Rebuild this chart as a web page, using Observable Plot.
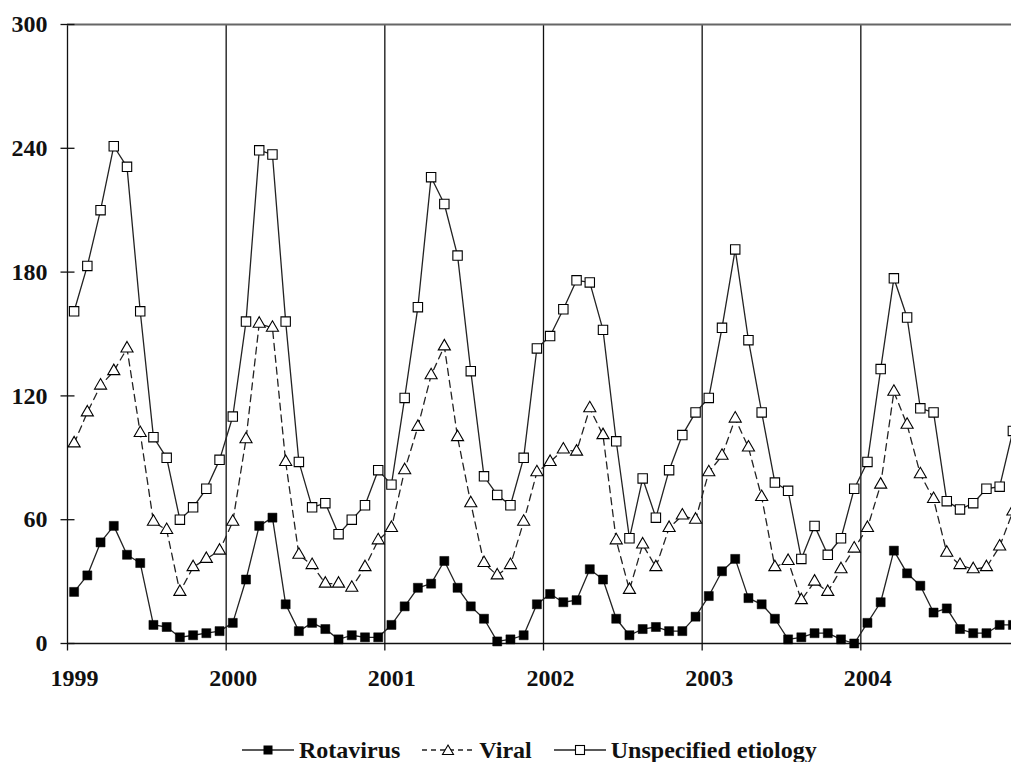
<!DOCTYPE html>
<html><head><meta charset="utf-8">
<script src="https://cdn.jsdelivr.net/npm/d3@7"></script>
<script src="https://cdn.jsdelivr.net/npm/@observablehq/plot@0.6"></script>
<style>
html,body{margin:0;padding:0;background:#fff;overflow:hidden;}
#wrap{position:relative;width:1011px;height:762px;}
#legend{position:absolute;left:242px;top:738px;display:flex;align-items:center;font:bold 24px "Liberation Serif",serif;color:#111;line-height:24px;white-space:nowrap;}
.item{display:flex;align-items:center;margin-right:22px;}
.item svg{margin-right:5px;display:block;}
</style></head><body><div id="wrap"><div id="chart"></div><div id="legend"></div></div>
<script>
const startYear = 1999;
const yearTicks = [1999, 2000, 2001, 2002, 2003, 2004];
const yTicks = [0, 60, 120, 180, 240, 300];
const seriesNames = ["Rotavirus", "Viral", "Unspecified etiology"];

const rotavirus = [
  25, 33, 49, 57, 43, 39, 9, 8, 3, 4, 5, 6,
  10, 31, 57, 61, 19, 6, 10, 7, 2, 4, 3, 3,
  9, 18, 27, 29, 40, 27, 18, 12, 1, 2, 4, 19,
  24, 20, 21, 36, 31, 12, 4, 7, 8, 6, 6, 13,
  23, 35, 41, 22, 19, 12, 2, 3, 5, 5, 2, 0,
  10, 20, 45, 34, 28, 15, 17, 7, 5, 5, 9, 9
];
const viral = [
  97, 112, 125, 132, 143, 102, 59, 55, 25, 37, 41, 45,
  59, 99, 155, 153, 88, 43, 38, 29, 29, 27, 37, 50,
  56, 84, 105, 130, 144, 100, 68, 39, 33, 38, 59, 83,
  88, 94, 93, 114, 101, 50, 26, 48, 37, 56, 62, 60,
  83, 91, 109, 95, 71, 37, 40, 21, 30, 25, 36, 46,
  56, 77, 122, 106, 82, 70, 44, 38, 36, 37, 47, 64
];
const unspecified = [
  161, 183, 210, 241, 231, 161, 100, 90, 60, 66, 75, 89,
  110, 156, 239, 237, 156, 88, 66, 68, 53, 60, 67, 84,
  77, 119, 163, 226, 213, 188, 132, 81, 72, 67, 90, 143,
  149, 162, 176, 175, 152, 98, 51, 80, 61, 84, 101, 112,
  119, 153, 191, 147, 112, 78, 74, 41, 57, 43, 51, 75,
  88, 133, 177, 158, 114, 112, 69, 65, 68, 75, 76, 103
];

const monthX = i => startYear + (i + 0.5) / 12;
const rows = (vals, s) => vals.map((v, i) => ({x: monthX(i), y: v, series: s}));
const rotRows = rows(rotavirus, seriesNames[0]);
const virRows = rows(viral, seriesNames[1]);
const unsRows = rows(unspecified, seriesNames[2]);

const ink = "#111";
const lineInk = "#222";
const hTick = {draw(ctx) { ctx.moveTo(-7, 0); ctx.lineTo(7, 0); }};
const vTick = {draw(ctx) { ctx.moveTo(0, 0); ctx.lineTo(0, 7); }};

const chart = Plot.plot({
  width: 1011, height: 700,
  marginLeft: 67, marginRight: 0, marginTop: 24, marginBottom: 57,
  style: {fontFamily: '"Liberation Serif", serif', fontSize: "24px", fontWeight: "bold", color: ink, background: "#fff", overflow: "hidden"},
  x: {domain: [1999, 2005], range: [67, 1019], axis: null},
  y: {domain: [0, 300], axis: null},
  marks: [
    Plot.ruleX(yearTicks, {y1: yTicks[0], y2: yTicks[yTicks.length - 1], stroke: ink, strokeWidth: 1.3}),
    Plot.ruleY([yTicks[yTicks.length - 1]], {stroke: "#666", strokeWidth: 2}),
    Plot.ruleY([yTicks[0]], {stroke: ink, strokeWidth: 1.5}),
    Plot.dot(yTicks, {x: () => yearTicks[0], y: d => d, symbol: hTick, fill: "none", stroke: ink, strokeWidth: 1.3}),
    Plot.dot(yearTicks, {x: d => d, y: () => yTicks[0], symbol: vTick, fill: "none", stroke: ink, strokeWidth: 1.3}),
    Plot.text(yTicks, {y: d => d, frameAnchor: "left", textAnchor: "end", dx: -20, text: d => String(d), fill: ink}),
    Plot.text(yearTicks, {x: d => d, frameAnchor: "bottom", lineAnchor: "top", dy: 25, dx: 7, text: d => String(d), fill: ink}),

    Plot.line(rotRows, {x: "x", y: "y", stroke: lineInk, strokeWidth: 1.3}),
    Plot.dot(rotRows, {x: "x", y: "y", symbol: "square", r: 5.1, fill: "#000", stroke: "#000", strokeWidth: 0.5}),

    Plot.line(virRows, {x: "x", y: "y", stroke: lineInk, strokeWidth: 1.3, strokeDasharray: "7,5"}),
    Plot.dot(virRows, {x: "x", y: "y", symbol: "triangle", r: 4.5, fill: "#fff", stroke: "#000", strokeWidth: 1.1}),

    Plot.line(unsRows, {x: "x", y: "y", stroke: lineInk, strokeWidth: 1.3}),
    Plot.dot(unsRows, {x: "x", y: "y", symbol: "square", r: 5.3, fill: "#fff", stroke: "#000", strokeWidth: 1.1})
  ]
});
document.getElementById("chart").appendChild(chart);

// Legend
const swatches = [
  {dash: null, marker: "fsq"},
  {dash: "5,4", marker: "tri"},
  {dash: null, marker: "osq"}
];
const legend = document.getElementById("legend");
seriesNames.forEach((name, i) => {
  const sw = swatches[i];
  let m = "";
  if (sw.marker === "fsq") m = '<rect x="21.5" y="7.5" width="9" height="9" fill="#000"/>';
  if (sw.marker === "osq") m = '<rect x="21.5" y="7.5" width="9" height="9" fill="#fff" stroke="#000" stroke-width="1.1"/>';
  if (sw.marker === "tri") m = '<path d="M26,7 L31.5,16.5 L20.5,16.5 Z" fill="#fff" stroke="#000" stroke-width="1.1"/>';
  const item = document.createElement("div");
  item.className = "item";
  item.innerHTML = `<svg width="52" height="24"><line x1="0" x2="52" y1="12" y2="12" stroke="${lineInk}" stroke-width="1.3" ${sw.dash ? `stroke-dasharray="${sw.dash}"` : ""}/>${m}</svg><span>${name}</span>`;
  legend.appendChild(item);
});
</script>
</body></html>
